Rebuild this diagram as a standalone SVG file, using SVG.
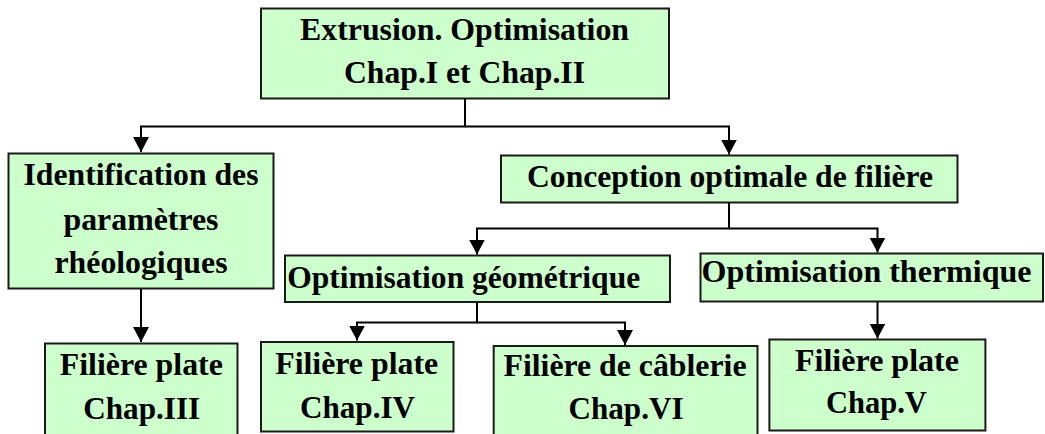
<svg xmlns="http://www.w3.org/2000/svg" width="1045" height="434" viewBox="0 0 1045 434">
<style>
.box{fill:#ccffcc;stroke:#1a1a1a;stroke-width:2}
.t{font-family:"Liberation Serif","Times New Roman",serif;font-weight:bold;font-size:32px;fill:#000;text-anchor:middle}
.c{fill:none;stroke:#000;stroke-width:2}
</style>
<defs>
<marker id="ah" markerUnits="userSpaceOnUse" markerWidth="17" markerHeight="17" refX="15" refY="8" orient="auto">
<path d="M0,0 L15,8 L0,16 z" fill="#000"/>
</marker>
</defs>
<rect width="1045" height="434" fill="#fff"/>
<g id="connectors">
<path class="c" d="M465,98 V126.5 H141 V152" marker-end="url(#ah)"/>
<path class="c" d="M465,126.5 H729 V154.5" marker-end="url(#ah)"/>
<path class="c" d="M141,288 V342" marker-end="url(#ah)"/>
<path class="c" d="M729,202 V228.5 H477 V254.5" marker-end="url(#ah)"/>
<path class="c" d="M729,228.5 H877.5 V252.5" marker-end="url(#ah)"/>
<path class="c" d="M477,302 V322.5 H357 V340.5" marker-end="url(#ah)"/>
<path class="c" d="M477,322.5 H625 V345" marker-end="url(#ah)"/>
<path class="c" d="M877.5,301.5 V338.5" marker-end="url(#ah)"/>
</g>
<g id="n-extrusion">
<rect class="box" x="261" y="8.5" width="408" height="90"/>
<text class="t" x="464.5" y="39.5" textLength="329" lengthAdjust="spacingAndGlyphs">Extrusion. Optimisation</text>
<text class="t" x="464.5" y="82.5" textLength="241" lengthAdjust="spacingAndGlyphs">Chap.I et Chap.II</text>
</g>
<g id="n-identification">
<rect class="box" x="8.5" y="153.5" width="265" height="135"/>
<text class="t" x="141" y="185" textLength="235" lengthAdjust="spacingAndGlyphs">Identification des</text>
<text class="t" x="141" y="229.5" textLength="155" lengthAdjust="spacingAndGlyphs">paramètres</text>
<text class="t" x="141" y="272.5" textLength="173" lengthAdjust="spacingAndGlyphs">rhéologiques</text>
</g>
<g id="n-conception">
<rect class="box" x="501" y="155.5" width="456.5" height="47"/>
<text class="t" x="730" y="187" textLength="406" lengthAdjust="spacingAndGlyphs">Conception optimale de filière</text>
</g>
<g id="n-geometrique">
<rect class="box" x="285" y="255.5" width="385" height="46.5"/>
<text class="t" x="463.7" y="287.5" textLength="353" lengthAdjust="spacingAndGlyphs">Optimisation géométrique</text>
</g>
<g id="n-thermique">
<rect class="box" x="700.5" y="253.5" width="342.5" height="48"/>
<text class="t" x="866.5" y="282" textLength="330" lengthAdjust="spacingAndGlyphs">Optimisation thermique</text>
</g>
<g id="n-chap3">
<rect class="box" x="45" y="343.5" width="192.5" height="100"/>
<text class="t" x="141.3" y="375" textLength="163" lengthAdjust="spacingAndGlyphs">Filière plate</text>
<text class="t" x="141.7" y="419" textLength="117" lengthAdjust="spacingAndGlyphs">Chap.III</text>
</g>
<g id="n-chap4">
<rect class="box" x="261" y="342" width="192.5" height="89.5"/>
<text class="t" x="356.7" y="373.5" textLength="163" lengthAdjust="spacingAndGlyphs">Filière plate</text>
<text class="t" x="357.5" y="417.5" textLength="115" lengthAdjust="spacingAndGlyphs">Chap.IV</text>
</g>
<g id="n-chap6">
<rect class="box" x="493.7" y="346" width="263.8" height="100"/>
<text class="t" x="625" y="376" textLength="243" lengthAdjust="spacingAndGlyphs">Filière de câblerie</text>
<text class="t" x="626" y="419" textLength="115" lengthAdjust="spacingAndGlyphs">Chap.VI</text>
</g>
<g id="n-chap5">
<rect class="box" x="769.4" y="339.5" width="216" height="91"/>
<text class="t" x="877" y="371" textLength="164" lengthAdjust="spacingAndGlyphs">Filière plate</text>
<text class="t" x="876.4" y="412.5" textLength="101" lengthAdjust="spacingAndGlyphs">Chap.V</text>
</g>
</svg>
